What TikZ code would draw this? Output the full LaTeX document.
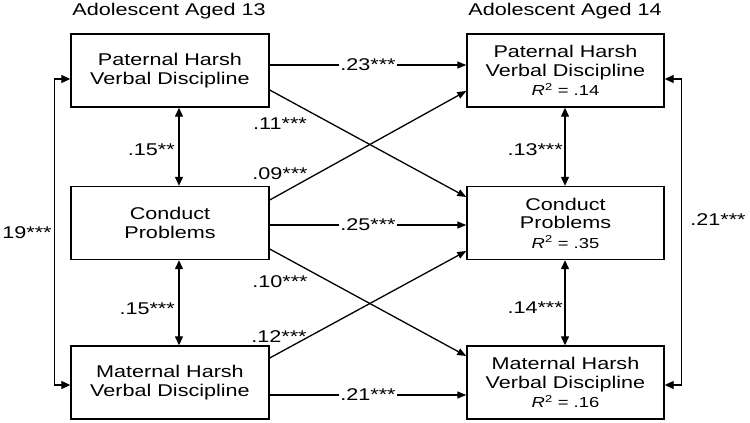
\documentclass[tikz,border=0pt]{standalone}
\usepackage{fontspec}
\setmainfont{Liberation Sans}[FakeStretch=1.27]
\usetikzlibrary{arrows.meta}
\tikzset{
  box/.style={draw, line width=1.4pt, minimum width=198pt, minimum height=73pt,
    align=center, font=\fontsize{17}{18.5}\selectfont, inner sep=0pt},
  conn/.style={line width=1.3pt, -{Triangle[length=9pt,width=7pt]}},
  dconn/.style={line width=1.3pt, {Triangle[length=9pt,width=8pt]}-{Triangle[length=9pt,width=8pt]}},
  lbl/.style={font=\fontsize{17}{18}\selectfont, inner sep=1pt},
  wlbl/.style={lbl, fill=white},
  head/.style={font=\fontsize{17}{18}\selectfont, anchor=base},
}
\newcommand{\rsq}[1]{{\fontsize{14.5}{16}\selectfont\textit{R}\textsuperscript{2} = #1}}
\begin{document}
\begin{tikzpicture}[x=1pt,y=-1pt]
\useasboundingbox (0,0) rectangle (750,423);
% headings
\node[head] (h13) at (169,15) {Adolescent Aged 13};
\node[head] (h14) at (565,15) {Adolescent Aged 14};
% boxes
\node[box] (p13) at (170,70.5) {Paternal Harsh\\Verbal Discipline};
\node[box] (c13) at (170,223) {Conduct\\Problems};
\node[box] (m13) at (170,382.5) {Maternal Harsh\\Verbal Discipline};
\node[box, minimum width=197pt] (p14) at (565.5,70.5) {Paternal Harsh\\Verbal Discipline\\[1pt]\rsq{.14}};
\node[box, minimum width=197pt] (c14) at (565.5,223) {Conduct\\Problems\\[1pt]\rsq{.35}};
\node[box, minimum width=197pt] (m14) at (565.5,382.5) {Maternal Harsh\\Verbal Discipline\\[1pt]\rsq{.16}};
% stability paths
\draw[conn] ([yshift=5.5pt]p13.east) -- node[wlbl] (l23) {.23***} ([yshift=5.5pt]p14.west);
\draw[conn] ([yshift=-2pt]c13.east) -- node[wlbl] (l25) {.25***} ([yshift=-2pt]c14.west);
\draw[conn] ([yshift=-12.5pt]m13.east) -- node[wlbl] (l21) {.21***} ([yshift=-12.5pt]m14.west);
% cross-lagged paths
\draw[conn] ([yshift=-19.5pt]p13.east) -- ([yshift=26pt]c14.west);
\draw[conn] ([yshift=23pt]c13.east) -- ([yshift=-20.5pt]p14.west);
\draw[conn] ([yshift=-26pt]c13.east) -- ([yshift=26.5pt]m14.west);
\draw[conn] ([yshift=24.5pt]m13.east) -- ([yshift=-28pt]c14.west);
\node[lbl] (l11) at (280,124) {.11***};
\node[lbl] (l09) at (280,174) {.09***};
\node[lbl] (l10) at (280,282) {.10***};
\node[lbl] (l12) at (279,337) {.12***};
% within-time covariances
\draw[dconn] ([xshift=9pt]p13.south) -- ([xshift=9pt]c13.north);
\draw[dconn] ([xshift=9pt]c13.south) -- ([xshift=9pt]m13.north);
\draw[dconn] ([xshift=-0.5pt]p14.south) -- ([xshift=-0.5pt]c14.north);
\draw[dconn] ([xshift=-0.5pt]c14.south) -- ([xshift=-0.5pt]m14.north);
\node[lbl, anchor=east] (l15a) at (176,149.5) {.15**};
\node[lbl, anchor=east] (l15b) at (176,309) {.15***};
\node[lbl, anchor=east] (l13) at (564,149.5) {.13***};
\node[lbl, anchor=east] (l14) at (564,307.5) {.14***};
% parent covariances
\draw[dconn] ([yshift=-8.5pt]p13.west) -- ++(-16,0) |- ([yshift=-2.5pt]m13.west);
\draw[dconn] ([yshift=-8.5pt]p14.east) -- ++(16.5,0) |- ([yshift=-2.5pt]m14.east);
\node[lbl] (l19) at (27,233) {19***};
\node[lbl] (l21r) at (718,220) {.21***};
\end{tikzpicture}
\end{document}
